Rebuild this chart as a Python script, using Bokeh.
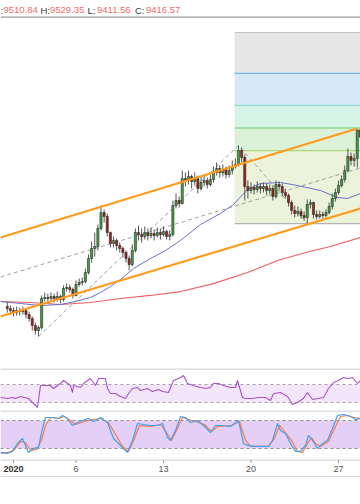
from bokeh.plotting import figure
from bokeh.models import Range1d, Span, ColumnDataSource, BoxAnnotation
from bokeh.layouts import column
from bokeh.embed import file_html
from bokeh.resources import INLINE
from bokeh.core.properties import value

# ---------------- data (x = days since 2020-01-01, BTC price) ----------------
candle_start_day = -0.5      # 6h candles
candle_step_day = 0.25
first_open = 7225
close = [7199, 7173, 7147, 7173, 7160, 7173, 7121, 7070, 6979, 6915,
         6953, 7329, 7342, 7329, 7355, 7329, 7355, 7316, 7458, 7471,
         7445, 7368, 7510, 7536, 7549, 7665, 7846, 7976, 8002, 8235,
         8442, 8390, 8183, 8041, 8080, 8015, 7976, 7924, 7846, 7768,
         7950, 8183, 8157, 8131, 8183, 8144, 8170, 8144, 8183, 8157,
         8196, 8131, 8157, 8532, 8597, 8558, 8881, 8856, 8907, 8843,
         8881, 8752, 8830, 8856, 8804, 8868, 8959, 9011, 8959, 8998,
         8933, 8985, 9037, 9063, 9244, 9153, 8778, 8726, 8765, 8739,
         8778, 8752, 8778, 8726, 8752, 8649, 8804, 8778, 8700, 8662,
         8571, 8468, 8429, 8455, 8403, 8377, 8545, 8571, 8416, 8390,
         8416, 8403, 8442, 8519, 8623, 8700, 8791, 8868, 8985, 9166,
         9115, 9140, 9510.84, 9416.57]
high = [7277, 7238, 7212, 7225, 7212, 7225, 7199, 7160, 7095, 7018,
        6979, 7368, 7406, 7393, 7406, 7393, 7419, 7381, 7497, 7523,
        7510, 7471, 7562, 7588, 7601, 7717, 7898, 8067, 8183, 8286,
        8532, 8481, 8429, 8196, 8131, 8105, 8054, 8002, 7950, 7885,
        8028, 8235, 8273, 8235, 8261, 8235, 8248, 8222, 8248, 8235,
        8261, 8222, 8209, 8597, 8687, 8649, 8985, 8959, 8985, 8933,
        8959, 8920, 8907, 8933, 8894, 8933, 9037, 9089, 9050, 9063,
        9037, 9050, 9115, 9140, 9309, 9283, 9192, 8856, 8830, 8804,
        8843, 8817, 8830, 8817, 8804, 8791, 8856, 8843, 8817, 8752,
        8687, 8597, 8532, 8519, 8494, 8455, 8610, 8610, 8584, 8468,
        8468, 8455, 8481, 8571, 8687, 8752, 8856, 8920, 9050, 9270,
        9218, 9205, 9520, 9529.35]
low = [7147, 7121, 7095, 7108, 7108, 7121, 7070, 7031, 6915, 6863,
       6837, 6928, 7290, 7277, 7290, 7277, 7290, 7264, 7290, 7419,
       7406, 7329, 7355, 7484, 7497, 7523, 7639, 7794, 7872, 7950,
       8209, 8312, 8131, 7989, 7989, 7950, 7924, 7859, 7794, 7691,
       7743, 7924, 8080, 8054, 8092, 8080, 8105, 8080, 8118, 8092,
       8131, 8092, 8080, 8131, 8494, 8506, 8545, 8778, 8804, 8752,
       8791, 8687, 8726, 8778, 8752, 8778, 8830, 8920, 8894, 8907,
       8881, 8894, 8933, 9011, 9037, 9089, 8597, 8623, 8687, 8675,
       8700, 8687, 8700, 8662, 8675, 8597, 8623, 8726, 8649, 8623,
       8519, 8416, 8377, 8390, 8364, 8338, 8299, 8494, 8364, 8351,
       8364, 8364, 8377, 8416, 8481, 8584, 8675, 8765, 8830, 8959,
       9050, 9037, 9024, 9411.56]

ma_fast_day = [-1.04, 0.56, 2.16, 3.76, 4.96, 6.16, 6.96, 7.76, 8.56, 9.6, 10.96, 12.16,
               13.36, 14.96, 16.56, 17.6, 18.72, 19.76, 21.36, 22.72, 24.56, 25.92, 26.72, 27.76]
ma_fast = [7290, 7264, 7238, 7251, 7290, 7342, 7406, 7484, 7575, 7717, 7846, 7950,
           8080, 8286, 8429, 8545, 8739, 8817, 8830, 8791, 8726, 8636, 8623, 8687]
ma_slow_day = [-1.04, 1.36, 3.76, 6.16, 8.56, 10.96, 13.36, 16.0, 18.72, 21.36, 24.0, 25.36, 27.76]
ma_slow = [7290, 7277, 7251, 7277, 7329, 7368, 7419, 7522, 7665, 7833, 7950, 8002, 8118]

channel_upper_day = [-1.04, 27.5]
channel_upper = [8118, 9529]
channel_lower_day = [-1.04, 27.76]
channel_lower = [7095, 8494]
channel_mid_day = [-1.04, 27.76]
channel_mid = [7607, 9017]

pivot_day = [2.0, 18.0, 23.5]          # A, B, C of trend-based fib extension
pivot_price = [6837, 9309, 8299]
fib_start_day = 17.68
fib_ratio = [0, 0.382, 0.5, 0.618, 0.786, 1]
fib_price = [8299, 9243, 9535, 9827, 10242, 10771]

rsi_day = [-1.04, -0.48, -0.08, 0.16, 0.56, 1.2, 1.52, 1.76, 1.92, 2.16, 2.96, 3.2, 3.76, 4.0,
           4.56, 4.72, 4.8, 5.36, 5.6, 6.16, 6.56, 6.8, 7.36, 7.52, 7.76, 8.16, 8.56, 8.96,
           9.2, 9.52, 9.92, 10.16, 10.72, 11.12, 11.6, 11.92, 12.4, 12.8, 13.36, 13.6, 13.92,
           14.4, 14.96, 15.36, 15.76, 16.0, 16.4, 16.8, 17.36, 17.76, 17.92, 18.32, 18.56,
           19.12, 19.6, 20.16, 20.56, 20.8, 21.36, 21.92, 22.32, 22.72, 23.2, 23.52, 23.92,
           24.32, 24.8, 25.2, 25.6, 26.0, 26.4, 26.8, 27.12, 27.52, 27.76]
rsi = [41.1, 38.9, 41.1, 38.9, 43.3, 38.9, 30, 23.3, 18.9, 67.8, 67.8, 61.1, 72.2, 78.9,
       67.8, 52.2, 67.8, 63.3, 72.2, 83.3, 67.8, 83.3, 83.3, 61.1, 50, 50, 43.3, 38.9,
       50, 61.1, 63.3, 56.7, 61.1, 54.4, 58.9, 54.4, 52.2, 78.9, 85.6, 90, 72.2,
       67.8, 63.3, 61.1, 63.3, 72.2, 72.2, 67.8, 63.3, 63.3, 78.9, 41.1, 38.9,
       38.9, 41.1, 41.1, 34.4, 50, 52.2, 43.3, 25.6, 30, 38.9, 52.2, 36.7,
       38.9, 41.1, 61.1, 74.4, 78.9, 85.6, 83.3, 85.6, 72.2, 78.9]

stoch_k_day = [-1.04, -0.48, -0.08, 0.32, 0.72, 0.96, 1.2, 1.6, 2.0, 2.32, 2.56, 3.2, 3.6, 3.92,
               4.32, 4.72, 4.96, 5.52, 6.0, 6.4, 6.96, 7.52, 8.0, 8.56, 9.12, 9.52, 9.92, 10.4,
               10.96, 11.52, 11.92, 12.32, 12.56, 12.96, 13.36, 13.76, 14.16, 14.72, 15.2, 15.76,
               16.16, 16.56, 17.36, 18.0, 18.4, 18.72, 19.2, 20.4, 20.72, 21.12, 21.36, 21.76,
               22.16, 22.56, 22.96, 23.36, 23.6, 23.92, 24.32, 24.72, 25.12, 25.52, 25.92, 26.4,
               27.0, 27.36, 27.76]
stoch_k = [11.5, 9.4, 13.7, 30.8, 41.5, 26.5, 11.5, 20.1, 22.2, 62.9, 86.4, 86.4, 84.3, 90.7,
           84.3, 69.3, 73.6, 80, 84.3, 77.9, 86.4, 75.7, 41.5, 26.5, 11.5, 37.2, 73.6, 71.4,
           69.3, 69.3, 73.6, 43.6, 37.2, 58.6, 88.6, 86.4, 75.7, 80, 69.3, 54.3,
           69.3, 69.3, 67.2, 80, 30.8, 26.5, 24.4, 24.4, 37.2, 73.6, 58.6, 52.2,
           30.8, 13.7, 13.7, 26.5, 47.9, 37.2, 20.1, 30.8, 37.2, 62.9, 90.7, 92.8,
           88.6, 82.1, 84.3]
stoch_d_day = [-1.04, -0.4, 0.08, 0.56, 0.96, 1.36, 1.84, 2.24, 2.56, 2.96, 3.6, 4.08, 4.56, 4.96,
               5.68, 6.32, 6.96, 7.6, 8.16, 8.72, 9.2, 9.68, 10.08, 10.96, 11.76, 12.24, 12.64,
               13.12, 13.52, 14.0, 14.56, 15.28, 15.84, 16.32, 17.44, 18.08, 18.56, 18.96, 20.4,
               20.88, 21.28, 21.68, 22.24, 22.72, 23.12, 23.52, 23.84, 24.16, 24.56, 25.2, 25.68,
               26.16, 26.72, 27.2, 27.76]
stoch_d = [9.4, 11.5, 17.9, 35.1, 32.9, 15.8, 17.9, 37.2, 69.3, 86.4, 84.3, 88.6, 80, 71.4,
           77.9, 82.1, 84.3, 75.7, 50, 24.4, 13.7, 41.5, 69.3, 67.2, 71.4, 54.3, 37.2,
           62.9, 86.4, 82.1, 77.9, 71.4, 56.5, 67.2, 69.3, 77.9, 37.2, 24.4, 24.4,
           41.5, 69.3, 56.5, 37.2, 13.7, 11.5, 30.8, 43.6, 30.8, 24.4, 35.1, 62.9,
           88.6, 90.7, 86.4, 84.3]

tick_days = [0, 5, 12, 19, 26]
tick_labels = ["2020", "6", "13", "20", "27"]
header_labels = [":", "H:", "L:", "C:"]   # the "O" of "O:" lies beyond the left edge

# ---------------- styling / layout ----------------
FONT = "Liberation Sans"
W = 360
xr = Range1d(-1.04, 27.76)


def day_at(px):
    """x position (days) of a pixel column of the chart."""
    return (px - 13) / 12.5


def make_fig(h, y0, y1):
    f = figure(width=W, height=h, x_range=xr, y_range=Range1d(y0, y1),
               output_backend="svg", toolbar_location=None,
               x_axis_location=None, y_axis_location=None,
               min_border=0, min_border_left=0, min_border_right=0,
               min_border_top=0, min_border_bottom=0)
    f.grid.visible = False
    f.outline_line_color = None
    f.background_fill_color = "white"
    f.border_fill_color = "white"
    return f


# ---------------- main pane ----------------
p = make_fig(368, 6423, 11185)

zone_colors = ["#ebf4da", "#dcf2d8", "#d5f4e7", "#d5e9f6", "#e6e6e6"]
level_colors = ["#b4b4b4", "#a9d97a", "#66c966", "#94d9cc", "#74b8e6", "#c2c2c2"]
fib_end_day = 29
p.quad(left=[fib_start_day] * 5, right=[fib_end_day] * 5,
       bottom=fib_price[:-1], top=fib_price[1:],
       fill_color=zone_colors, line_color=None)
p.segment(x0=[fib_start_day] * 6, x1=[fib_end_day] * 6, y0=fib_price, y1=fib_price,
          line_color=level_colors, line_width=1.2)

p.line(channel_mid_day, channel_mid, line_color="#a0a0a0", line_width=1, line_dash="4 3")
p.line(pivot_day, pivot_price, line_color="#a0a0a0", line_width=1, line_dash="4 3")

p.line(ma_slow_day, ma_slow, line_color="#f06060", line_width=1.2)
p.line(ma_fast_day, ma_fast, line_color="#6a6fd0", line_width=1)

t = [candle_start_day + candle_step_day * i for i in range(len(close))]
opens = [first_open] + close[:-1]
up = [c >= o for o, c in zip(opens, close)]
src = ColumnDataSource(dict(
    t=t, h=high, l=low,
    top=[max(o, c) for o, c in zip(opens, close)],
    bot=[min(o, c) for o, c in zip(opens, close)],
    col=["#3fa344" if u else "#a3201c" for u in up]))
p.segment(x0="t", y0="h", x1="t", y1="l", source=src, line_color="#555555", line_width=1)
p.vbar(x="t", width=0.17, top="top", bottom="bot", source=src,
       fill_color="col", line_color="#2a2a2a", line_width=0.6)

p.line(channel_upper_day, channel_upper, line_color="#ff9a1a", line_width=2)
p.line(channel_lower_day, channel_lower, line_color="#ff9a1a", line_width=2)

# header legend (last candle OHLC)
last_vals = [opens[-1], high[-1], low[-1], close[-1]]
lab_px = [0, 40, 87, 134.5]
val_px = [3, 49.5, 96.5, 145.5]
header_y = 11058
p.text(x=[day_at(v) for v in lab_px], y=[header_y] * 4, text=header_labels,
       text_color="#3a3a3a", text_font=value(FONT), text_font_size="9.5px",
       text_baseline="alphabetic", text_align="left")
p.text(x=[day_at(v) for v in val_px], y=[header_y] * 4,
       text=[f"{v:.2f}" for v in last_vals],
       text_color="#ef6b6b", text_font=value(FONT), text_font_size="9.5px",
       text_baseline="alphabetic", text_align="left")
p.add_layout(Span(location=10969, dimension="width", line_color="#9c9c9c", line_width=1.2))

# ---------------- RSI pane ----------------
pr = make_fig(42, 12.2, 105.6)
pr.add_layout(BoxAnnotation(bottom=30, top=70, fill_color="#f3e6fb", fill_alpha=1,
                            line_color=None, level="underlay"))
for lvl in (30, 70):
    pr.add_layout(Span(location=lvl, dimension="width", line_color="#a5a5a5",
                       line_width=1, line_dash="3 3", level="underlay"))
pr.line(rsi_day, rsi, line_color="#a753c6", line_width=1.1)
pr.add_layout(Span(location=104.5, dimension="width", line_color="#bdbdbd", line_width=1))

# ---------------- Stochastic pane ----------------
ps = make_fig(49, -3.6, 101.4)
ps.add_layout(BoxAnnotation(bottom=20, top=80, fill_color="#e4cff7", fill_alpha=1,
                            line_color=None, level="underlay"))
for lvl in (20, 80):
    ps.add_layout(Span(location=lvl, dimension="width", line_color="#8f8f8f",
                       line_width=1, line_dash="3 3", level="underlay"))
ps.line(stoch_d_day, stoch_d, line_color="#ff7a45", line_width=1.2)
ps.line(stoch_k_day, stoch_k, line_color="#42a0f0", line_width=1.2)
ps.add_layout(Span(location=100.3, dimension="width", line_color="#bdbdbd", line_width=1))

# ---------------- time axis strip ----------------
pa = make_fig(18, 0, 18)
pa.add_layout(Span(location=17.5, dimension="width", line_color="#bdbdbd", line_width=1))
pa.add_layout(Span(location=0.5, dimension="width", line_color="#b0b0b0", line_width=1))
pa.segment(x0=tick_days, x1=tick_days, y0=[18] * 5, y1=[14.5] * 5, line_color="#9a9a9a", line_width=1)
pa.text(x=tick_days[:1], y=[8.5], text=tick_labels[:1], text_color="#333333",
        text_font=value(FONT), text_font_size="9px", text_font_style="bold",
        text_align="center", text_baseline="middle")
pa.text(x=tick_days[1:], y=[8.5] * 4, text=tick_labels[1:], text_color="#555555",
        text_font=value(FONT), text_font_size="9px",
        text_align="center", text_baseline="middle")

layout = column(p, pr, ps, pa, spacing=0)
open("out.html", "w").write(file_html(layout, INLINE))
